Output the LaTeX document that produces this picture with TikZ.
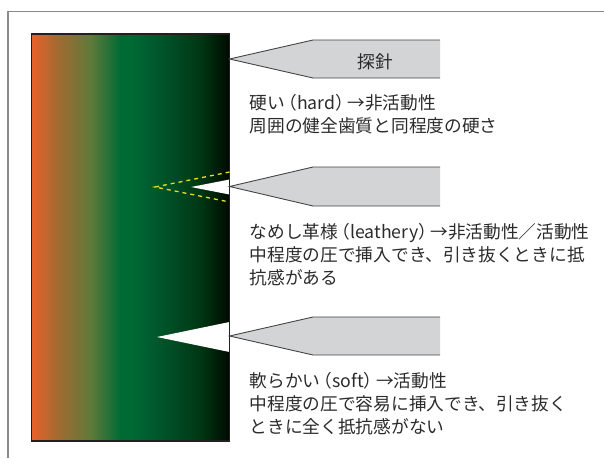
\documentclass[tikz,border=0pt]{standalone}
\usepackage{fontspec}
\newfontfamily\jpfont{Noto Sans CJK JP}
\definecolor{framegray}{HTML}{8A8A8A}
\definecolor{edgedark}{HTML}{231F20}
\definecolor{probefill}{HTML}{D3D4D6}
\definecolor{probeedge}{HTML}{454545}
\definecolor{marker}{HTML}{E6E01A}
\definecolor{textdark}{HTML}{2B2B2B}
\definecolor{dOrange}{HTML}{E9622A}
\definecolor{dBrown}{HTML}{A36A30}
\definecolor{dOlive}{HTML}{5E7A3A}
\definecolor{dGreen}{HTML}{006A35}
\definecolor{dMid}{HTML}{00542A}
\definecolor{dDeep}{HTML}{003512}
\definecolor{dBlack}{HTML}{000A00}
% dentin colour ramp, left (outer) to right (inner)
\pgfdeclarehorizontalshading{dentin}{100bp}{%
  color(0bp)=(dOrange); color(25bp)=(dOrange); color(31.5bp)=(dBrown);
  color(40bp)=(dOlive); color(47.5bp)=(dGreen); color(50bp)=(dGreen);
  color(58bp)=(dMid); color(68bp)=(dDeep); color(75bp)=(dBlack);
  color(100bp)=(dBlack)}
% tighter full-width parentheses
\newcommand{\lpar}{\kern-0.32em（}
\newcommand{\rpar}{）\kern-0.32em}
\begin{document}
\begin{tikzpicture}[x=1pt,y=-1pt,
  desc/.style={font=\jpfont\fontsize{17.7}{23}\selectfont, text=textdark,
    align=left, inner sep=0pt, anchor=base west},
  probebody/.style={fill=probefill},
  probeoutline/.style={draw=probeedge, line width=0.9pt, line join=miter},
  hole/.style={fill=white},
  trace/.style={draw=marker, line width=1.3pt, dash pattern=on 4pt off 4pt}]
\useasboundingbox (0,0) rectangle (604,458);

% outer frame
\draw[framegray, line width=1.1pt] (8,458) -- (8,11.5) -- (604,11.5);

% dentin block with probe holes
\shade[shading=dentin] (31.5,34) rectangle (229.5,441);
\fill[hole] (229.5,179.5) -- (191,187) -- (229.5,194.5) -- cycle;
\fill[hole] (229.5,322) -- (157,337) -- (229.5,352) -- cycle;
\draw[edgedark, line width=1.1pt] (31.5,34) rectangle (229.5,441);
\draw[trace] (229.5,172) -- (155,187) -- (229.5,202);

% probes
\foreach \t/\b in {40/78, 167/206, 317/355}{
  \fill[probebody] (229.5,{(\t+\b)/2}) -- (313,\t) -- (440,\t) -- (440,\b) -- (313,\b) -- cycle;
  \draw[probeoutline] (440,\t) -- (313,\t) -- (229.5,{(\t+\b)/2}) -- (313,\b) -- (440,\b);
}

\node[desc, anchor=center] (probe) at (375,62) {探針};

% descriptions, anchored at the baseline of their last line
\node[desc] (hard) at (249.5,132) {硬い\lpar hard\rpar →非活動性\\周囲の健全歯質と同程度の硬さ};
\node[desc] (leathery) at (249.5,284) {なめし革様\lpar leathery\rpar →非活動性／活動性\\中程度の圧で挿入でき、引き抜くときに抵\\抗感がある};
\node[desc] (soft) at (249.5,433) {軟らかい\lpar soft\rpar →活動性\\中程度の圧で容易に挿入でき、引き抜く\\ときに全く抵抗感がない};
\end{tikzpicture}
\end{document}
